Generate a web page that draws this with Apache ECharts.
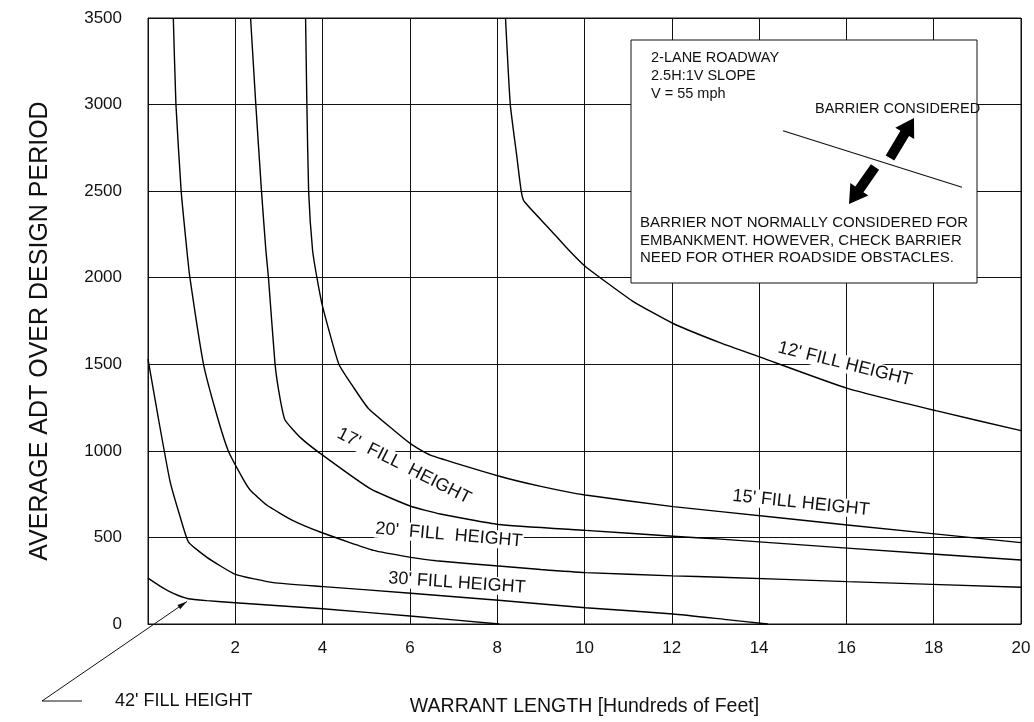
<!DOCTYPE html>
<html>
<head>
<meta charset="utf-8">
<script src="https://cdn.jsdelivr.net/npm/echarts@6/dist/echarts.min.js"></script>
<style>
  html, body { margin: 0; background: #fff; }
  #chart { width: 1034px; height: 722px; }
</style>
</head>
<body>
<div id="chart"></div>
<script>
// warrant length (hundreds of feet) vs ADT, one curve per fill height
const fill12 = [[8.19,3500],[8.3,3000],[8.45,2700],[8.55,2500],[8.62,2440],[9.22,2276],[9.6,2170],[10.02,2065],[11.1,1865],[12.02,1737],[13.1,1625],[14.04,1540],[16.02,1361],[18.05,1232],[20,1117]];
const fill15 = [[3.61,3500],[3.64,3000],[3.68,2500],[3.77,2160],[3.87,2000],[4.0,1833],[4.37,1502],[4.7,1370],[5.05,1245],[6.02,1040],[6.47,975],[8.03,855],[9,795],[10.02,745],[12.03,678],[13.12,649],[16.02,572],[20,470]];
const fill17 = [[2.35,3500],[2.47,3000],[2.6,2500],[2.7,2160],[2.76,2000],[2.91,1502],[3.02,1310],[3.14,1178],[3.5,1075],[4.0,975],[5.1,780],[6.02,680],[6.7,635],[8.03,575],[10.02,541],[12.03,507],[13.12,490],[16.02,438],[20,370]];
const fill20 = [[0.58,3500],[0.64,3000],[0.76,2500],[0.89,2160],[0.96,2000],[1.27,1502],[1.55,1230],[1.84,999],[2.19,832],[2.34,774],[2.72,687],[3.3,600],[4.02,524],[5.17,425],[6.02,385],[6.6,365],[8.03,335],[9,315],[10.02,297],[12.03,278],[13.12,270],[16.02,245],[20,212]];
const fill30 = [[0,1530],[0.25,1170],[0.5,830],[0.7,650],[0.925,475],[1.35,385],[2,287],[2.87,239],[4.02,216],[6.02,178],[8.03,137],[10.02,94],[12.03,58],[13.2,27],[14.2,0]];
const fill42 = [[0,265],[0.275,219],[0.58,177],[0.925,146],[1.35,135],[2,123],[4,88],[6,46],[8.05,0]];

const curves = [
  {name: "12'", data: fill12},
  {name: "15'", data: fill15},
  {name: "17'", data: fill17},
  {name: "20'", data: fill20},
  {name: "30'", data: fill30},
  {name: "42'", data: fill42}
];

const xTitle = 'WARRANT LENGTH [Hundreds of Feet]';
const yTitle = 'AVERAGE ADT OVER DESIGN PERIOD';
const FONT = '"Liberation Sans", Arial, Helvetica, sans-serif';
const INK = '#111';

// thick block arrow as polygon points
function blockArrow(tail, tip, shaftW, headW, headL) {
  const dx = tip[0] - tail[0], dy = tip[1] - tail[1];
  const L = Math.hypot(dx, dy);
  const ux = dx / L, uy = dy / L, px = -uy, py = ux;
  const bx = tip[0] - ux * headL, by = tip[1] - uy * headL;
  return [
    [tail[0] + px * shaftW / 2, tail[1] + py * shaftW / 2],
    [bx + px * shaftW / 2, by + py * shaftW / 2],
    [bx + px * headW / 2, by + py * headW / 2],
    tip,
    [bx - px * headW / 2, by - py * headW / 2],
    [bx - px * shaftW / 2, by - py * shaftW / 2],
    [tail[0] - px * shaftW / 2, tail[1] - py * shaftW / 2]
  ];
}

function curveLabel(text, x, y, deg) {
  return {
    type: 'text', x: x, y: y, z: 1,
    rotation: -deg * Math.PI / 180,
    style: {
      text: text, font: '18px ' + FONT, fill: INK,
      align: 'center', verticalAlign: 'middle',
      backgroundColor: '#fff', padding: [0, 1]
    }
  };
}

function boxText(text, x, y, size) {
  return {
    type: 'text', x: x, y: y, z: 3,
    style: {text: text, font: size + 'px ' + FONT, fill: INK, align: 'left', verticalAlign: 'middle'}
  };
}

const chart = echarts.init(document.getElementById('chart'));

const option = {
  animation: false,
  backgroundColor: '#fff',
  grid: {left: 148, right: 13, top: 18, bottom: 98, show: true, borderColor: INK, borderWidth: 1},
  xAxis: {
    type: 'value', min: 0, max: 20, interval: 2,
    name: xTitle, nameLocation: 'middle', nameGap: 73,
    nameTextStyle: {fontSize: 19.5, color: INK, fontFamily: FONT},
    axisLine: {show: true, lineStyle: {color: INK, width: 1}},
    axisTick: {show: false},
    axisLabel: {margin: 16, fontSize: 17, color: INK, fontFamily: FONT, showMinLabel: false},
    splitLine: {show: true, lineStyle: {color: INK, width: 1}}
  },
  yAxis: {
    type: 'value', min: 0, max: 3500, interval: 500,
    axisLine: {show: true, lineStyle: {color: INK, width: 1}},
    axisTick: {show: false},
    axisLabel: {margin: 26, fontSize: 17, color: INK, fontFamily: FONT, formatter: v => String(v)},
    splitLine: {show: true, lineStyle: {color: INK, width: 1}}
  },
  series: curves.map(c => ({
    name: c.name + ' FILL HEIGHT',
    type: 'line',
    data: c.data,
    showSymbol: false,
    smooth: 0.15,
    silent: true,
    clip: true,
    z: 2,
    lineStyle: {color: '#000', width: 1.4}
  })),
  graphic: {
    elements: [
      // y axis title
      {
        type: 'text', x: 40, y: 331, rotation: Math.PI / 2,
        style: {text: yTitle, font: '25px ' + FONT, fill: INK, align: 'center', verticalAlign: 'middle'}
      },
      // curve labels
      curveLabel("12' FILL HEIGHT", 845, 364, 14),
      curveLabel("15' FILL HEIGHT", 801, 503, 6),
      curveLabel("17'  FILL  HEIGHT", 404, 466, 27),
      curveLabel("20'  FILL  HEIGHT", 449, 535, 5),
      curveLabel("30' FILL HEIGHT", 457, 583, 4),
      {
        type: 'text', x: 115, y: 701, z: 1,
        style: {text: "42' FILL HEIGHT", font: '18px ' + FONT, fill: INK, align: 'left', verticalAlign: 'middle'}
      },
      // leader for 42'
      {
        type: 'polyline', z: 3,
        shape: {points: [[82, 701], [42, 701], [187, 601.5]]},
        style: {stroke: INK, lineWidth: 1, fill: null}
      },
      {
        type: 'polygon', z: 3,
        shape: {points: blockArrow([177, 608.3], [187, 601.5], 0, 5, 10)},
        style: {fill: INK}
      },
      // note box
      {
        type: 'rect', z: 3,
        shape: {x: 631, y: 40, width: 346, height: 243},
        style: {fill: '#fff', stroke: INK, lineWidth: 1}
      },
      boxText('2-LANE ROADWAY', 651, 58, 14.5),
      boxText('2.5H:1V SLOPE', 651, 76, 14.5),
      boxText('V = 55 mph', 651, 93.5, 14.5),
      boxText('BARRIER CONSIDERED', 815, 108.5, 14.5),
      boxText('BARRIER NOT NORMALLY CONSIDERED FOR', 640, 223, 15),
      boxText('EMBANKMENT. HOWEVER, CHECK BARRIER', 640, 240.5, 15),
      boxText('NEED FOR OTHER ROADSIDE OBSTACLES.', 640, 258, 15),
      {
        type: 'line', z: 3,
        shape: {x1: 783, y1: 130.7, x2: 962, y2: 187.3},
        style: {stroke: INK, lineWidth: 1.2}
      },
      {
        type: 'polygon', z: 3,
        shape: {points: blockArrow([890, 158], [914, 118], 10, 22, 18)},
        style: {fill: '#000'}
      },
      {
        type: 'polygon', z: 3,
        shape: {points: blockArrow([875, 167], [849, 204], 10, 22, 18)},
        style: {fill: '#000'}
      }
    ]
  }
};

chart.setOption(option);
</script>
</body>
</html>
